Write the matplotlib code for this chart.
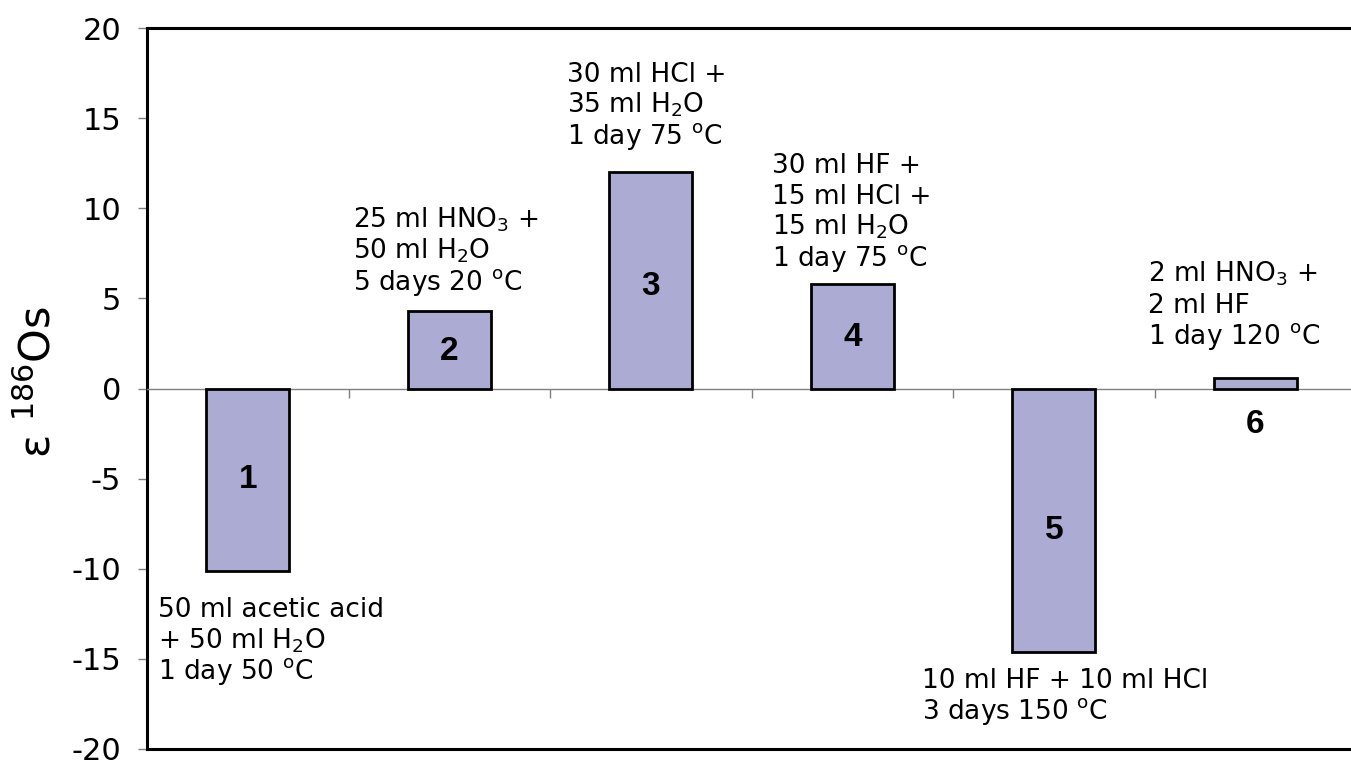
import matplotlib
matplotlib.use("Agg")
import matplotlib.pyplot as plt
import numpy as np

# Digestion experiments and resulting epsilon 186Os values
bar_numbers = ["1", "2", "3", "4", "5", "6"]
eps_186os = [-10.1, 4.3, 12.0, 5.8, -14.6, 0.6]

conditions = [
    ["50 ml acetic acid", "+ 50 ml H$_2$O", "1 day 50 $^{o}$C"],
    ["25 ml HNO$_3$ +", "50 ml H$_2$O", "5 days 20 $^{o}$C"],
    ["30 ml HCl +", "35 ml H$_2$O", "1 day 75 $^{o}$C"],
    ["30 ml HF +", "15 ml HCl +", "15 ml H$_2$O", "1 day 75 $^{o}$C"],
    ["10 ml HF + 10 ml HCl", "3 days 150 $^{o}$C"],
    ["2 ml HNO$_3$ +", "2 ml HF", "1 day 120 $^{o}$C"],
]
# left edge / first baseline of each condition block (data coords)
cond_x = [-0.445, 0.522, 1.584, 2.602, 3.346, 4.468]
cond_y = [-12.69, 8.92, 17.02, 11.97, -16.63, 5.93]
# vertical position of each bar number (data coords)
num_y = [-5.03, 2.05, 5.65, 2.83, -7.87, -2.0]

y_ticks = [20, 15, 10, 5, 0, -5, -10, -15, -20]

plt.rcParams["font.family"] = "DejaVu Sans"
plt.rcParams["mathtext.fontset"] = "dejavusans"
plt.rcParams["mathtext.default"] = "regular"

W, H, DPI = 1351, 762, 100
fig = plt.figure(figsize=(W / DPI, H / DPI), dpi=DPI)
ax = fig.add_axes([147 / W, 13 / H, 1209 / W, 721 / H])

x = np.arange(len(eps_186os))
ax.bar(x, eps_186os, width=0.41, color="#ABABD3", edgecolor="black",
       linewidth=2.0, zorder=3)

ax.set_xlim(-0.5, len(eps_186os) - 0.5)
ax.set_ylim(-20, 20)

# zero line acts as the category axis, with ticks between categories
ax.spines["bottom"].set_position(("data", 0))
ax.spines["bottom"].set_color("#808080")
ax.spines["bottom"].set_linewidth(1.0)
ax.set_xticks(x[:-1] + 0.5)
ax.set_xticklabels([])
ax.tick_params(axis="x", direction="out", length=6.5, width=1.0, color="#808080")

for side in ("left", "top", "right"):
    ax.spines[side].set_linewidth(2.2)
    ax.spines[side].set_color("black")
# frame line along the bottom of the plot area
ax.plot([0, 1], [0, 0], transform=ax.transAxes, color="black", lw=2.2,
        clip_on=False, zorder=5, solid_capstyle="projecting")

ax.set_yticks(y_ticks)
ax.set_yticklabels([str(t) for t in y_ticks])
ax.tick_params(axis="y", direction="out", length=6.5, width=1.0,
               color="#808080", labelsize=22, pad=12)

# number inside (or below) each bar
for xi, ny, lab in zip(x, num_y, bar_numbers):
    ax.text(xi, ny, lab, ha="center", va="center", fontsize=24,
            fontweight="bold", family="Liberation Sans", zorder=4)

# digestion conditions
line_step = 31 * 72 / DPI
for lines, cx, cy in zip(conditions, cond_x, cond_y):
    for i, s in enumerate(lines):
        ax.annotate(s, xy=(cx, cy), xytext=(0, -i * line_step),
                    textcoords="offset points", ha="left", va="baseline",
                    fontsize=19, zorder=4)

fig.text(38 / W, 1 - 382 / H, r"ε $^{186}$Os", rotation=90, ha="center",
         va="center", fontsize=31)

fig.savefig("out.png", dpi=DPI)
